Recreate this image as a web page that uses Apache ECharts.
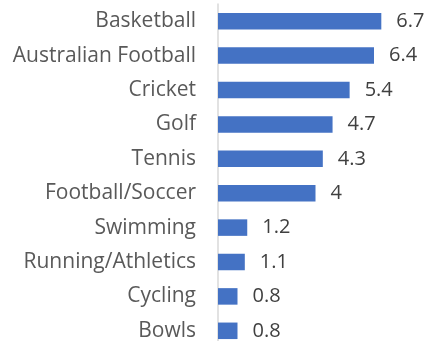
<!DOCTYPE html>
<html>
<head>
<meta charset="utf-8">
<script src="https://cdn.jsdelivr.net/npm/echarts@6/dist/echarts.min.js"></script>
<style>
  html, body { margin: 0; padding: 0; background: #fff; }
  #chart { width: 425px; height: 341px; }
</style>
</head>
<body>
<div id="chart"></div>
<script>
// top to bottom as shown
const sports = ['Basketball', 'Australian Football', 'Cricket', 'Golf', 'Tennis',
  'Football/Soccer', 'Swimming', 'Running/Athletics', 'Cycling', 'Bowls']
const values = [6.7, 6.4, 5.4, 4.7, 4.3, 4, 1.2, 1.1, 0.8, 0.8]

const chart = echarts.init(document.getElementById('chart'))

chart.setOption({
  animation: false,
  textStyle: { fontFamily: '"Open Sans", sans-serif' },
  // plot area runs a little past the bottom edge, like the source
  grid: { left: 218, right: 12, top: 4, height: 344, outerBoundsMode: 'none', containLabel: false },
  xAxis: {
    type: 'value',
    min: 0,
    max: 8,
    show: false,
  },
  yAxis: {
    type: 'category',
    inverse: true,
    data: sports,
    axisLine: { show: true, lineStyle: { color: '#d9d9d9', width: 1.5 } },
    axisTick: { show: false },
    axisLabel: { color: '#595959', fontSize: 21, margin: 22 },
  },
  series: [
    {
      type: 'bar',
      data: values,
      barWidth: '48%',
      itemStyle: { color: '#4472c4' },
      label: {
        show: true,
        position: 'right',
        distance: 15,
        color: '#404040',
        fontSize: 20,
      },
    },
  ],
})
</script>
</body>
</html>
